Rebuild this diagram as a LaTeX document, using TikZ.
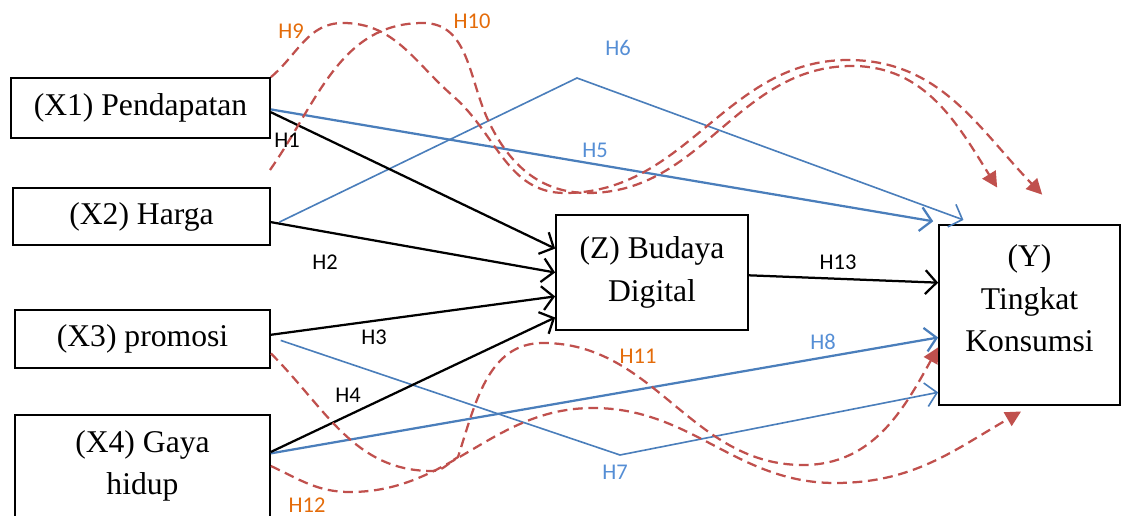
\documentclass[tikz,border=0pt]{standalone}
\usepackage{fontspec}
\setmainfont{Liberation Serif}
\newfontfamily\labelfont{Carlito}
\usetikzlibrary{arrows.meta}
\definecolor{lineblue}{HTML}{4A7EBB}
\definecolor{textblue}{HTML}{558ED5}
\definecolor{dashred}{HTML}{C0504D}
\definecolor{textorange}{HTML}{E46C0A}

\begin{document}
\begin{tikzpicture}[x=0.025cm,y=0.025cm,
    box/.style={draw,line width=1.2pt,align=center,inner sep=0pt,font=\fontsize{22.5}{30}\selectfont},
    blk/.style={line width=1.6pt,-{Straight Barb[length=8pt,width=17pt]}},
    blu/.style={draw=lineblue,line width=1.6pt,-{Straight Barb[length=8pt,width=17pt]}},
    blut/.style={blu,line width=1.15pt},
    mod/.style={draw=dashred,line width=1.6pt,dash pattern=on 7pt off 4pt,-{Triangle[length=11pt,width=11pt]},fill=none},
    lbl/.style={font=\labelfont\fontsize{16}{19}\selectfont,inner sep=0pt},
    lblb/.style={lbl,text=textblue},
    lblo/.style={lbl,text=textorange}]
        \useasboundingbox (0,0) rectangle (1126,515);
        % variabel
        \node[box,minimum width=6.475cm,minimum height=1.5cm] (pendapatan) at (140.5,407) {(X1) Pendapatan};
        \node[box,minimum width=6.425cm,minimum height=1.425cm] (harga) at (141.5,298.5) {(X2) Harga};
        \node[box,minimum width=6.375cm,minimum height=1.45cm] (promosi) at (142.5,176) {(X3) promosi};
        \node[box,minimum width=6.375cm,minimum height=2.55cm] (gaya) at (142.5,49) {(X4) Gaya\\hidup};
        \node[box,minimum width=4.8cm,minimum height=2.875cm] (budaya) at (652,242.5) {(Z) Budaya\\Digital};
        \node[box,minimum width=4.525cm,minimum height=4.5cm] (konsumsi) at (1029.5,200) {(Y)\\Tingkat\\Konsumsi\\[-6pt]\mbox{}};
        % pengaruh langsung ke Y
        \coordinate (k6) at (577,437);
        \coordinate (k7) at (620,60);
        \draw[blu] ([yshift=-1pt]pendapatan.east) -- ([xshift=-3.5pt,yshift=2pt]konsumsi.north west);
        \draw[blut] ([xshift=6pt,yshift=-4pt]harga.east) -- (k6) -- ([xshift=18pt,yshift=3pt]konsumsi.north west);
        \draw[blut] ([xshift=7pt,yshift=-1pt]promosi.east) -- (k7) -- ([yshift=-55pt]konsumsi.west);
        \draw[blu] ([yshift=9pt]gaya.east) -- ([yshift=-16pt]konsumsi.west);
        % pengaruh ke Z
        \draw[blk] ([yshift=-3pt]pendapatan.east) -- ([yshift=17pt]budaya.west);
        \draw[blk] ([yshift=-4pt]harga.east) -- (budaya.west);
        \draw[blk] ([yshift=3pt]promosi.east) -- ([yshift=-17pt]budaya.west);
        \draw[blk] ([yshift=10pt]gaya.east) -- ([yshift=-32pt]budaya.west);
        \draw[blk] ([yshift=-2pt]budaya.east) -- ([yshift=23pt]konsumsi.west);
        % mediasi
        \coordinate (s10) at (270,345);
        \draw[mod] (pendapatan.north east) to[out=40,in=180] (343,492) to[out=0,in=139] (453,419)
            to[out=-41,in=180] (565,322) to[out=0,in=180] (848,455) to[out=0,in=134] ([xshift=9pt,yshift=21pt]konsumsi.north);
        \draw[mod] (s10) to[out=55,in=180] (423,492) to[out=0,in=115] (488,395)
            to[out=-65,in=180] (588,322) to[out=0,in=180] (852,449) to[out=0,in=122] ([xshift=-23pt,yshift=26pt]konsumsi.north);
        \draw[mod] ([yshift=11pt]promosi.south east) to[out=-45,in=180] (432,44) to[out=0,in=210] (458,58)
            to[out=72,in=180] (543,172) to[out=0,in=180] (803,50) to[out=0,in=241] ([yshift=-23pt]konsumsi.west);
        \draw[mod] (gaya.east) to[out=-25,in=180] (350,23) to[out=0,in=180] (593,107)
            to[out=0,in=180] (835,32) to[out=0,in=210] ([xshift=-6pt,yshift=-4pt]konsumsi.south);
        % label hipotesis
        \node[lbl] (lh1) at (287,375) {H1};
        \node[lbl] (lh2) at (325,253) {H2};
        \node[lbl] (lh3) at (374,178) {H3};
        \node[lbl] (lh4) at (348,120) {H4};
        \node[lblb] (lh5) at (595,365) {H5};
        \node[lblb] (lh6) at (618,467) {H6};
        \node[lblb] (lh7) at (615,43) {H7};
        \node[lblb] (lh8) at (823,173) {H8};
        \node[lblo] (lh9) at (291,484) {H9};
        \node[lblo] (lh10) at (472,494) {H10};
        \node[lblo] (lh11) at (638,159) {H11};
        \node[lblo] (lh12) at (307,10) {H12};
        \node[lbl] (lh13) at (838,253) {H13};
\end{tikzpicture}
\end{document}
